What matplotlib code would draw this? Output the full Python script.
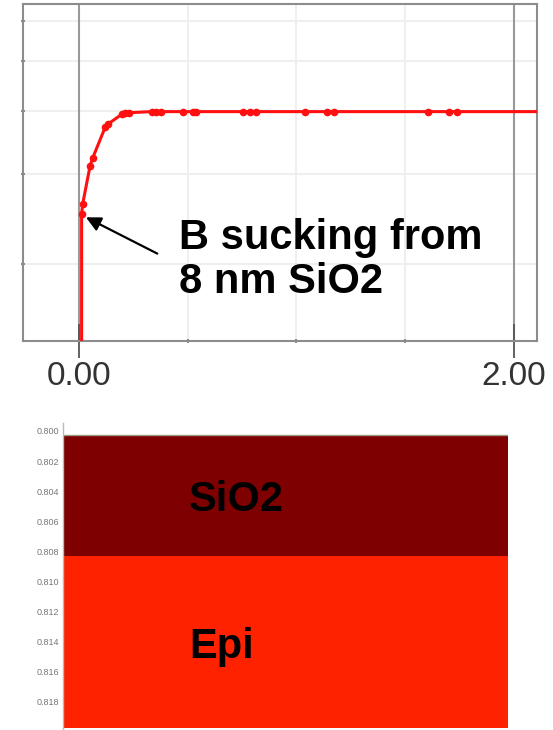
import matplotlib.pyplot as plt
from matplotlib.ticker import FixedLocator, NullLocator, NullFormatter

# Perfil de boro (profundidad en um, concentracion en unidades relativas)
depth = [0.012, 0.012, 0.017, 0.051, 0.063, 0.120, 0.135, 0.196, 0.212, 0.229,
         0.334, 0.352, 0.375, 0.477, 0.525, 0.537, 0.756, 0.785, 0.813,
         1.040, 1.142, 1.174, 1.606, 1.701, 1.737, 2.30]
conc = [0.50, 1.252, 1.31, 1.557, 1.613, 1.852, 1.883, 1.965, 1.975, 1.98,
        1.99, 1.99, 1.99, 1.99, 1.99, 1.99, 1.99, 1.99, 1.99,
        1.99, 1.99, 1.99, 1.99, 1.99, 1.99, 1.99]
y_ticks = [1.0, 1.5, 2.0, 2.5, 3.0]
x_labels = {0.0: "0.00", 2.0: "2.00"}
x_minor = [0.5, 1.0, 1.5]

# Estructura de capas (profundidad en um)
layers = ["SiO2", "Epi"]
layer_top = [0.80027, 0.80836]
layer_bottom = [0.80836, 0.81978]
layer_colors = ["#7f0000", "#ff2200"]
depth_ticks = [0.800, 0.802, 0.804, 0.806, 0.808, 0.810, 0.812, 0.814, 0.816, 0.818]

grey = "#8c8c8c"
fig = plt.figure(figsize=(5.53, 7.30), dpi=100)

# Grafico superior
ax = fig.add_axes([0.041, 0.5333, 0.930, 0.4612])
ax.set_yscale("log")
ax.set_xlim(-0.259, 2.106)
ax.set_ylim(0.705, 3.24)
ax.yaxis.set_major_locator(FixedLocator(y_ticks))
ax.yaxis.set_minor_locator(NullLocator())
ax.yaxis.set_major_formatter(NullFormatter())
ax.yaxis.set_minor_formatter(NullFormatter())
ax.set_xticks(list(x_labels.keys()))
ax.set_xticklabels(list(x_labels.values()), fontfamily="Liberation Sans",
                   fontsize=24, color="#333333")
ax.set_xticks(x_minor, minor=True)
ax.tick_params(axis="x", which="major", direction="inout", length=25, width=1.3,
               color="#555555", pad=2)
ax.tick_params(axis="x", which="minor", direction="inout", length=3, width=1.5, color=grey)
ax.tick_params(axis="y", which="major", direction="inout", length=3.5, width=1.5, color=grey)

for yt in y_ticks:
    ax.axhline(yt, color="#eeeeee", lw=1.3, zorder=0)
for xm in x_minor:
    ax.axvline(xm, color="#eeeeee", lw=1.3, zorder=0)
for xv in x_labels:
    ax.axvline(xv, color="#999999", lw=1.5, zorder=1)

for s in ax.spines.values():
    s.set_color(grey)
    s.set_linewidth(1.5)

ax.plot(depth, conc, color="#ff1010", lw=2.2, marker="o", markersize=4.5,
        markevery=slice(1, -1), zorder=3, solid_joinstyle="round")

ax.annotate("", xy=(0.032, 1.233), xytext=(0.36, 1.046),
            arrowprops=dict(arrowstyle="-|>", color="black", lw=1.6,
                            mutation_scale=22, shrinkA=0, shrinkB=0), zorder=4)
ax.text(0.3045, 0.1408, "B sucking from\n8 nm SiO2", transform=ax.transAxes,
        fontfamily="Liberation Sans", fontweight="bold", fontsize=30,
        ha="left", va="baseline", linespacing=1.15)

# Grafico inferior: capas
ax2 = fig.add_axes([0.1145, 0.002, 0.8047, 0.4185])
ax2.set_xlim(0, 1)
ax2.set_ylim(0.81982, 0.79947)
for name, top, bot, col in zip(layers, layer_top, layer_bottom, layer_colors):
    ax2.barh(top, 1, height=bot - top, left=0, align="edge", color=col, lw=0)
ax2.axhline(layer_top[0], color="#9a9a80", lw=1.0)
ax2.text(0.283, 0.80530, "SiO2", fontfamily="Liberation Sans", fontweight="bold",
         fontsize=30, ha="left", va="baseline")
ax2.text(0.283, 0.81510, "Epi", fontfamily="Liberation Sans", fontweight="bold",
         fontsize=30, ha="left", va="baseline")
ax2.set_yticks(depth_ticks)
ax2.set_yticklabels(["%.3f" % d for d in depth_ticks], fontfamily="Liberation Sans",
                    fontsize=6.5, color="#777777")
ax2.set_xticks([])
ax2.tick_params(axis="y", length=0, pad=3)
for k in ["top", "right", "bottom"]:
    ax2.spines[k].set_visible(False)
ax2.spines["left"].set_color("#bbbbbb")
ax2.spines["left"].set_linewidth(1.0)

fig.savefig("out.png", dpi=100)
